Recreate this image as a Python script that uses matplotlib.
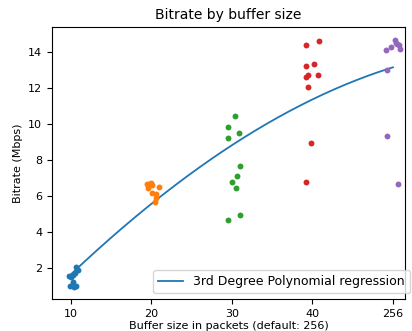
import numpy as np
import matplotlib
matplotlib.use("Agg")
import matplotlib.pyplot as plt

# buffer sizes (category positions on the axis) and their tick labels
positions = [10, 20, 30, 40, 50]
tick_labels = ["10", "20", "30", "40", "256"]
colors = ["#1f77b4", "#ff7f0e", "#2ca02c", "#d62728", "#9467bd"]

# strip-plot points: jittered x, bitrate in Mbps
x_10 = [10.6, 10.86, 10.5, 10.2, 9.75, 9.96, 10.3, 10.6, 9.88, 10.37]
y_10 = [2.04, 1.89, 1.74, 1.61, 1.56, 1.48, 1.22, 1.0, 1.02, 0.96]
x_20 = [19.4, 19.7, 20.0, 20.1, 20.9, 19.6, 20.1, 20.6, 20.6, 20.5]
y_20 = [6.67, 6.70, 6.74, 6.61, 6.52, 6.43, 6.18, 6.11, 5.87, 5.65]
x_30 = [30.4, 29.5, 30.9, 29.5, 31.0, 30.6, 30.0, 30.5, 31.0, 29.5]
y_30 = [10.44, 9.85, 9.52, 9.24, 7.68, 7.13, 6.76, 6.44, 4.94, 4.65]
x_40 = [40.76, 39.2, 39.2, 40.2, 39.5, 40.7, 39.2, 39.4, 39.8, 39.2]
y_40 = [14.63, 14.43, 13.24, 13.33, 12.76, 12.74, 12.61, 12.07, 8.96, 6.78]
x_256 = [50.2, 50.4, 50.7, 50.9, 49.75, 49.2, 49.3, 49.3, 50.6, 50.5]
y_256 = [14.67, 14.52, 14.39, 14.2, 14.3, 14.11, 13.04, 9.37, 6.65, 14.45]

xs = [x_10, x_20, x_30, x_40, x_256]
ys = [y_10, y_20, y_30, y_40, y_256]

fig = plt.figure(figsize=(4.12, 3.31), dpi=100)
ax = fig.add_axes([0.126, 0.097, 0.857, 0.821])

for xv, yv, c in zip(xs, ys, colors):
    ax.scatter(xv, yv, s=18, color=c, linewidths=0, zorder=3)

# 3rd degree polynomial fit on the category positions
all_x = np.concatenate([[p] * len(y) for p, y in zip(positions, ys)])
all_y = np.concatenate(ys)
coef = np.polyfit(all_x, all_y, 3)
d_x = np.linspace(10, 50, 200)
d_y = np.polyval(coef, d_x)
ax.plot(d_x, d_y, color="#1f77b4", lw=1.3, label="3rd Degree Polynomial regression", zorder=2)

ax.set_xticks(positions)
ax.set_xticklabels(tick_labels)
ax.set_yticks([2, 4, 6, 8, 10, 12, 14])
ax.set_xlim(7.64, 51.5)
ax.set_ylim(0.28, 15.4)
ax.tick_params(labelsize=8)
ax.set_xlabel("Buffer size in packets (default: 256)", fontsize=8, labelpad=2)
ax.set_ylabel("Bitrate (Mbps)", fontsize=8)
ax.set_title("Bitrate by buffer size", fontsize=10)
ax.legend(loc="lower right", fontsize=9, bbox_to_anchor=(410 / 412, 38 / 331),
          bbox_transform=fig.transFigure, borderaxespad=0)

fig.savefig("out.png", dpi=100)
